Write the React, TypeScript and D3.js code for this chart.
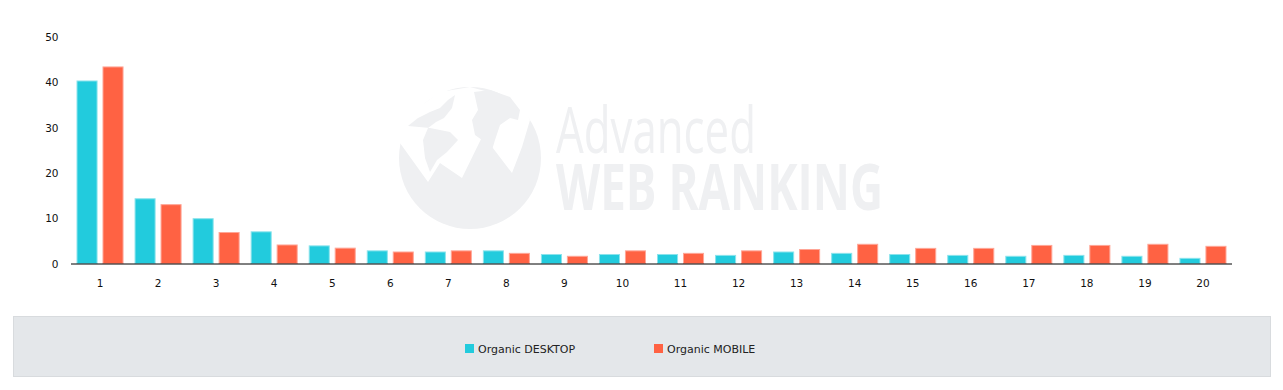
import React from 'react';
import * as d3 from 'd3';

// positions 1..20
const positions = ['1', '2', '3', '4', '5', '6', '7', '8', '9', '10',
  '11', '12', '13', '14', '15', '16', '17', '18', '19', '20'];

const desktopValues = [40.4, 14.4, 10.0, 7.1, 4.0, 2.9, 2.65, 2.9, 2.1, 2.1,
  2.1, 1.9, 2.65, 2.35, 2.1, 1.9, 1.7, 1.9, 1.7, 1.25];

const mobileValues = [43.5, 13.1, 6.95, 4.2, 3.5, 2.65, 2.9, 2.35, 1.7, 2.9,
  2.35, 2.9, 3.2, 4.35, 3.45, 3.45, 4.1, 4.1, 4.35, 3.9];

const yTicks = [0, 10, 20, 30, 40, 50];

const seriesNames = ['Organic DESKTOP', 'Organic MOBILE'];
const seriesColors = ['#22CBDD', '#FF6243'];
const seriesStrokes = ['#8AE3EC', '#FFA697'];

const W = 1283;
const H = 390;
const margin = { top: 37, right: 51, bottom: 126.5, left: 71 };
const FONT = '"DejaVu Sans", Verdana, sans-serif';

const App = () => {
  const innerW = W - margin.left - margin.right;
  const innerH = H - margin.top - margin.bottom;

  const x = d3.scaleBand()
    .domain(positions)
    .range([0, innerW])
    .paddingInner(0.19)
    .paddingOuter(0.095);

  const xs = d3.scaleBand()
    .domain(['0', '1'])
    .range([0, x.bandwidth()])
    .paddingInner(0.19);

  const y = d3.scaleLinear().domain([0, 50]).range([innerH, 0]);

  const series = [desktopValues, mobileValues];

  return (
    <svg width={W} height={H} style={{ display: 'block', position: 'absolute', left: 0, top: 0 }}>
      <rect width={W} height={H} fill="#fff" />

      {/* watermark */}
      <g fill="#EFF0F2">
        <circle cx={470} cy={158} r={71} />
        <path d="M400,143 L428,182 L440,163 L462,178 L483,135 L512,173 L522,147 L530,120 L520,100 L500,95 L470,87 L440,92 L415,110 L402,130 Z" fill="#fff" />
        <path d="M408,126 L418,118 L430,112 L440,108 L448,100 L455,95 L452,108 L444,118 L436,122 L428,128 L423,140 L425,158 L430,172 L437,160 L447,152 L458,140 L450,132 L440,130 L430,128 Z" />
        <path d="M474,92 L490,90 L510,97 L520,110 L518,120 L510,118 L500,125 L495,140 L492,150 L488,160 L482,140 L475,135 L472,120 L478,110 Z" />
        <text fontFamily='"Open Sans", sans-serif' fontSize={64}>
          <tspan x={556} y={153} fontWeight={400} textLength={200} lengthAdjust="spacingAndGlyphs">Advanced</tspan>
          <tspan x={556} y={210} fontWeight={700} textLength={327} lengthAdjust="spacingAndGlyphs">WEB RANKING</tspan>
        </text>
      </g>

      <g transform={`translate(${margin.left},${margin.top})`}>
        {series.map((vals, si) => (
          <g key={si}>
            {vals.map((v, i) => {
              const bx = (x(positions[i]) ?? 0) + (xs(String(si)) ?? 0);
              return (
                <rect key={i}
                  x={bx + 0.5}
                  y={y(v) + 0.5}
                  width={xs.bandwidth() - 1}
                  height={innerH - y(v) - 0.5}
                  fill={seriesColors[si]}
                  stroke={seriesStrokes[si]}
                  strokeWidth={1} />
              );
            })}
          </g>
        ))}

        <line x1={0} x2={innerW} y1={innerH + 0.5} y2={innerH + 0.5} stroke="#000" strokeWidth={1} />

        {yTicks.map(t => (
          <text key={t} x={-12.5} y={y(t) + 4} textAnchor="end"
            fontFamily={FONT} fontSize={10.5} fill="#111">{t}</text>
        ))}

        {positions.map(p => (
          <text key={p} x={(x(p) ?? 0) + x.bandwidth() / 2} y={innerH + 23}
            textAnchor="middle" fontFamily={FONT} fontSize={10.5} fill="#111">{p}</text>
        ))}
      </g>

      {/* legend */}
      <rect x={13.5} y={316.5} width={1257} height={60} fill="#E4E7EA" stroke="#D8DBDE" strokeWidth={1} />
      {seriesNames.map((name, i) => {
        const lx = i === 0 ? 465 : 654;
        return (
          <g key={name}>
            <rect x={lx} y={344} width={9} height={9} fill={seriesColors[i]} />
            <text x={lx + 13} y={352.5} fontFamily={FONT} fontSize={11} fill="#222">{name}</text>
          </g>
        );
      })}
    </svg>
  );
};

export default App;
